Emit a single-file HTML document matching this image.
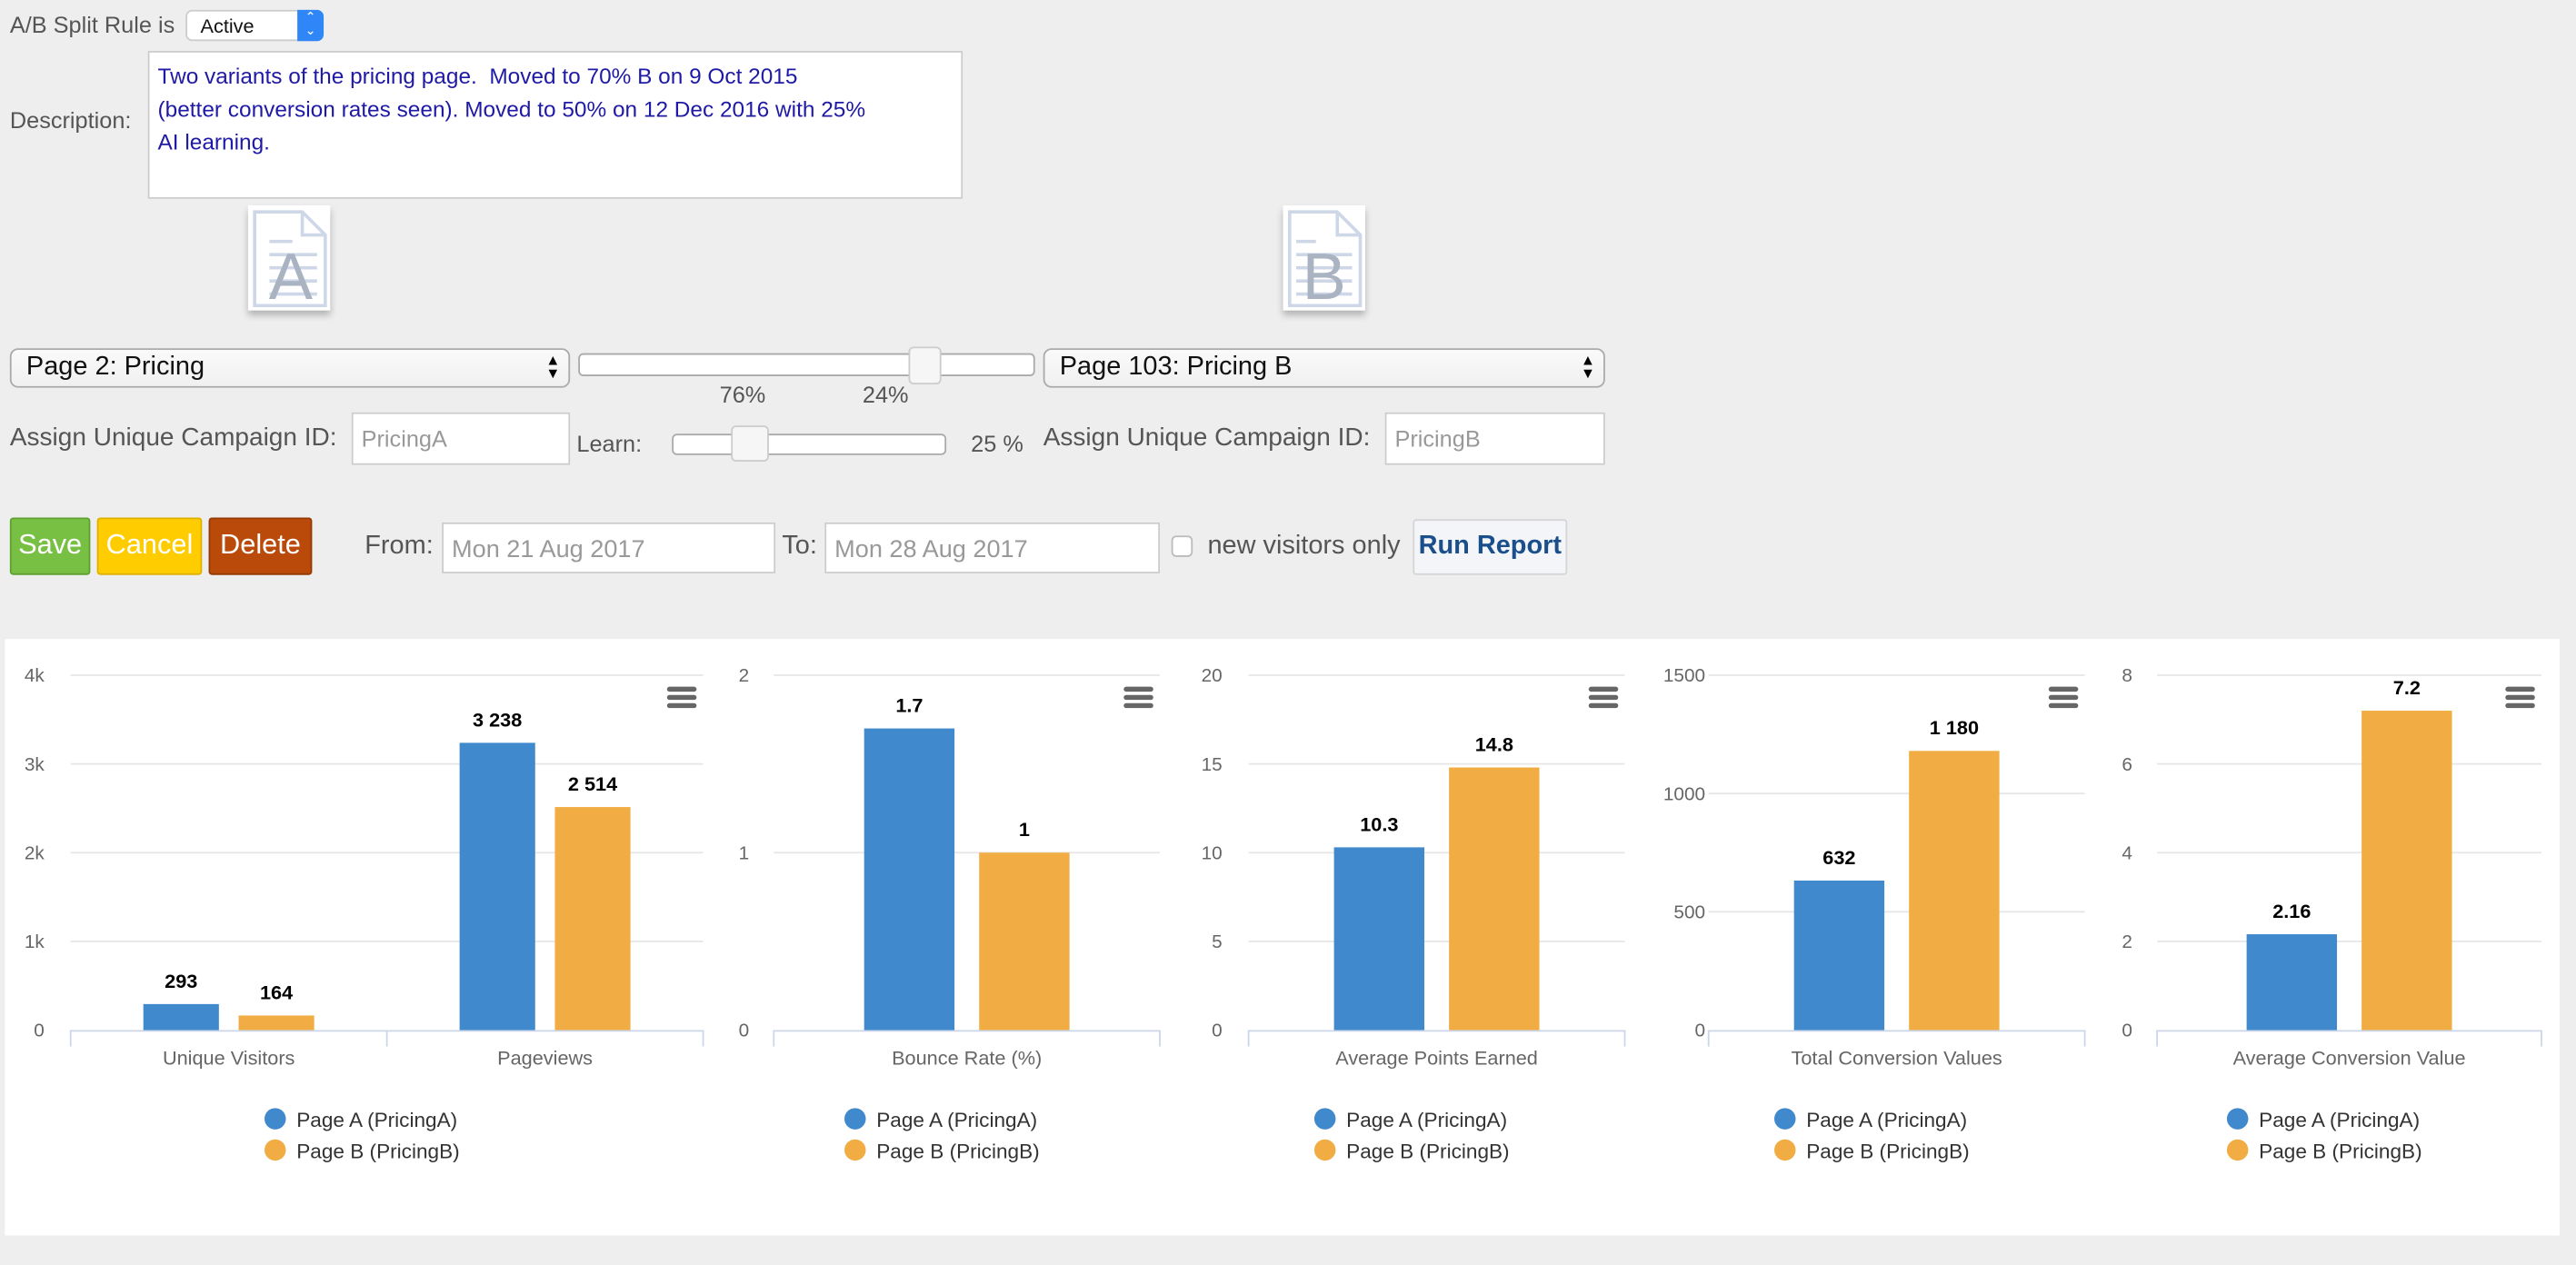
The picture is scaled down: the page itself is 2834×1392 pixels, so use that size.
<!DOCTYPE html>
<html><head><meta charset="utf-8">
<style>
html,body{margin:0;padding:0;background:#eeeeee;overflow:hidden;width:2834px;height:1392px}
#wrap{position:absolute;left:0;top:0;width:1568px;height:770px;transform:scale(1.80740,1.80779);transform-origin:0 0;font-family:"Liberation Sans",sans-serif;color:#555}
.a{position:absolute;white-space:nowrap}
.box{position:absolute;background:#fff;border:1px solid #ccc;box-sizing:border-box}
.sel{position:absolute;background:linear-gradient(#fafafa,#f0f0f0);border:1px solid #aaa;border-radius:5px;box-sizing:border-box;font-size:16px;color:#111;padding:2px 0 0 9px}
.sel .ar{position:absolute;right:5px;top:2px;font-size:9px;line-height:8px;color:#000}
.slider{position:absolute;background:#fff;border:1px solid #aaa;border-radius:3px;box-sizing:border-box}
.thumb{position:absolute;background:#f6f6f6;border:1px solid #ccc;border-radius:3px;box-sizing:border-box}
.btn{position:absolute;box-sizing:border-box;color:#fff;font-size:17px;text-align:center;line-height:32px;border-radius:2px}
.inp{position:absolute;background:#fff;border:1px solid #ccc;box-sizing:border-box;font-size:14px;color:#999;padding:7px 0 0 5px}
.icon{position:absolute;background:#fff;box-shadow:0 3px 4px rgba(0,0,0,.25)}
</style></head><body>
<div id="wrap">
<div class="a" style="left:6px;top:7px;font-size:14px">A/B Split Rule is</div>
<div class="a" style="left:113px;top:6px;width:84px;height:19px;background:#fff;border:1px solid #ccc;border-radius:4px;box-sizing:border-box;font-size:12px;color:#111;padding:2px 0 0 8px">Active<div style="position:absolute;right:-1px;top:-1px;width:16px;height:19px;background:#2f86f6;border-radius:0 4px 4px 0;color:#fff;font-size:8px;line-height:8px;text-align:center;padding-top:1px;box-sizing:border-box">⌃<br>⌄</div></div>
<div class="a" style="left:6px;top:65px;font-size:14px">Description:</div>
<div class="box" style="left:90px;top:31px;width:496px;height:90px;color:#1f1aa5;font-size:13.5px;line-height:20px;padding:5px 0 0 5px;white-space:nowrap">Two variants of the pricing page.&nbsp; Moved to 70% B on 9 Oct 2015<br>(better conversion rates seen). Moved to 50% on 12 Dec 2016 with 25%<br>AI learning.</div>
<div class="icon" style="left:151px;top:125px;width:50px;height:64px"><svg width="50" height="64"><path d="M4 4H33L47 18V61H4Z" fill="#fff" stroke="#cdd7e8" stroke-width="2"/><path d="M33 4V18H47" fill="none" stroke="#cdd7e8" stroke-width="2"/><g stroke="#cdd7e8" stroke-width="2"><line x1="13" y1="22" x2="27" y2="22"/><line x1="13" y1="30" x2="42" y2="30"/><line x1="13" y1="38" x2="42" y2="38"/><line x1="13" y1="46" x2="42" y2="46"/><line x1="13" y1="54" x2="42" y2="54"/></g><text x="26" y="57" font-size="40" fill="#a9b3c2" text-anchor="middle" font-family="Liberation Sans">A</text></svg></div>
<div class="icon" style="left:781px;top:125px;width:50px;height:64px"><svg width="50" height="64"><path d="M4 4H33L47 18V61H4Z" fill="#fff" stroke="#cdd7e8" stroke-width="2"/><path d="M33 4V18H47" fill="none" stroke="#cdd7e8" stroke-width="2"/><g stroke="#cdd7e8" stroke-width="2"><line x1="8" y1="22" x2="20" y2="22"/><line x1="8" y1="30" x2="42" y2="30"/><line x1="8" y1="38" x2="42" y2="38"/><line x1="8" y1="46" x2="42" y2="46"/><line x1="8" y1="54" x2="42" y2="54"/></g><text x="25" y="57" font-size="40" fill="#a9b3c2" text-anchor="middle" font-family="Liberation Sans">B</text></svg></div>
<div class="sel" style="left:6px;top:212px;width:341px;height:24px">Page 2: Pricing<div class="ar">▲<br>▼</div></div>
<div class="slider" style="left:352px;top:215px;width:278px;height:14px"></div>
<div class="thumb" style="left:553px;top:211px;width:20px;height:23px"></div>
<div class="a" style="left:438px;top:232px;font-size:14px">76%</div>
<div class="a" style="left:525px;top:232px;font-size:14px">24%</div>
<div class="sel" style="left:635px;top:212px;width:342px;height:24px">Page 103: Pricing B<div class="ar">▲<br>▼</div></div>
<div class="a" style="left:6px;top:258px;font-size:15.5px">Assign Unique Campaign ID:</div>
<div class="inp" style="left:214px;top:251px;width:133px;height:32px">PricingA</div>
<div class="a" style="left:351px;top:262px;font-size:14px">Learn:</div>
<div class="slider" style="left:409px;top:264px;width:167px;height:13px"></div>
<div class="thumb" style="left:445px;top:259px;width:23px;height:22px"></div>
<div class="a" style="left:591px;top:262px;font-size:14px">25 %</div>
<div class="a" style="left:635px;top:258px;font-size:15.5px">Assign Unique Campaign ID:</div>
<div class="inp" style="left:843px;top:251px;width:134px;height:32px">PricingB</div>
<div class="btn" style="left:6px;top:315px;width:49px;height:35px;background:#77c043;border:1px solid #5fa030">Save</div>
<div class="btn" style="left:59px;top:315px;width:64px;height:35px;background:#ffcc00;border:1px solid #e0b000">Cancel</div>
<div class="btn" style="left:127px;top:315px;width:63px;height:35px;background:#b94a0a;border:1px solid #963a05">Delete</div>
<div class="a" style="left:222px;top:324px;font-size:16px">From:</div>
<div class="inp" style="left:269px;top:318px;width:203px;height:31px;font-size:15px">Mon 21 Aug 2017</div>
<div class="a" style="left:476px;top:324px;font-size:16px">To:</div>
<div class="inp" style="left:502px;top:318px;width:204px;height:31px;font-size:15px">Mon 28 Aug 2017</div>
<div class="a" style="left:713px;top:326px;width:13px;height:13px;background:#fff;border:1px solid #bbb;border-radius:3px;box-sizing:border-box"></div>
<div class="a" style="left:735px;top:324px;font-size:16px">new visitors only</div>
<div class="a" style="left:860px;top:316px;width:94px;height:34px;background:#f3f5f9;border:1px solid #d5d5d5;border-radius:2px;box-sizing:border-box;color:#1a4f8b;font-size:16px;font-weight:bold;text-align:center;line-height:32px">Run Report</div>
<div class="a" style="left:3px;top:389px;width:1555px;height:363px;background:#fff"></div>
<svg id="charts" class="a" style="left:0;top:0" width="1568" height="770"></svg>
</div>
<script>
// chart data
const c1Categories = ["Unique Visitors", "Pageviews"];
const c1A = [293, 3238];
const c1B = [164, 2514];
const c1Ticks = [0, 1000, 2000, 3000, 4000];
const c1TickLabels = ["0", "1k", "2k", "3k", "4k"];
const c2Categories = ["Bounce Rate (%)"];
const c2A = [1.7];
const c2B = [1];
const c2Ticks = [0, 1, 2];
const c2TickLabels = ["0", "1", "2"];
const c3Categories = ["Average Points Earned"];
const c3A = [10.3];
const c3B = [14.8];
const c3Ticks = [0, 5, 10, 15, 20];
const c3TickLabels = ["0", "5", "10", "15", "20"];
const c4Categories = ["Total Conversion Values"];
const c4A = [632];
const c4B = [1180];
const c4Ticks = [0, 500, 1000, 1500];
const c4TickLabels = ["0", "500", "1000", "1500"];
const c5Categories = ["Average Conversion Value"];
const c5A = [2.16];
const c5B = [7.2];
const c5Ticks = [0, 2, 4, 6, 8];
const c5TickLabels = ["0", "2", "4", "6", "8"];
const seriesNames = ["Page A (PricingA)", "Page B (PricingB)"];

const NS = "http://www.w3.org/2000/svg";
const svg = document.getElementById("charts");
function mk(tag, attrs, text) {
  const e = document.createElementNS(NS, tag);
  for (const k in attrs) e.setAttribute(k, attrs[k]);
  if (text !== undefined) e.textContent = text;
  svg.appendChild(e);
  return e;
}
function fmt(v) {
  if (v >= 1000) { const s = String(Math.round(v)); return s.slice(0, s.length - 3) + " " + s.slice(-3); }
  return String(v);
}
function drawChart(idx, x0, x1, cats, A, B, ticks, tickLabels, labx) {
  const yTop = 411, yBot = 627;
  const max = ticks[ticks.length - 1];
  const y = v => yBot - (v / max) * (yBot - yTop);
  ticks.forEach((t, i) => {
    if (t !== 0) {
      const g = mk("line", {x1: x0, x2: x1, y1: y(t), y2: y(t), stroke: "#e6e6e6", "stroke-width": 1});
      
      
    }
    const tl = mk("text", {x: labx, y: y(t) + 4, "text-anchor": "end", "font-size": 11.5, fill: "#666", "font-family": "Liberation Sans"}, tickLabels[i]);
    
    
  });
  const ax = mk("line", {x1: x0, x2: x1, y1: yBot + 0.5, y2: yBot + 0.5, stroke: "#ccd6eb", "stroke-width": 1});
  
  
  const gw = (x1 - x0) / cats.length;
  const bw = cats.length > 1 ? 46 : 55;
  const off = cats.length > 1 ? 29 : 35;
  for (let i = 0; i <= cats.length; i++) {
    const tk = mk("line", {x1: x0 + gw * i, x2: x0 + gw * i, y1: yBot, y2: yBot + 10, stroke: "#ccd6eb"});
    
    
  }
  cats.forEach((c, i) => {
    const cx = x0 + gw * (i + 0.5);
    const cl = mk("text", {x: cx, y: 648, "text-anchor": "middle", "font-size": 12, fill: "#666", "font-family": "Liberation Sans"}, c);
    
    
    [[A, "#3f89cc", -off], [B, "#f1ad43", off]].forEach(([arr, col, o], s) => {
      const v = arr[i];
      const r = mk("rect", {x: cx + o - bw / 2, y: y(v), width: bw, height: yBot - y(v), fill: col});
      
      
      const t = mk("text", {x: cx + o, y: y(v) - 10, "text-anchor": "middle", "font-size": 12, "font-weight": "bold", fill: "#000", "font-family": "Liberation Sans"}, fmt(v));
      
      
    });
  });
  const mx = x1 - 13;
  for (let k = 0; k < 3; k++) {
    const m = mk("rect", {x: mx - 9, y: 418 + k * 5, width: 18, height: 3, rx: 1.5, fill: "#666"});
    
    
  }
  const lc = (x0 + x1) / 2;
  seriesNames.forEach((n, s) => {
    const ly = 681 + s * 19;
    const d = mk("circle", {cx: lc - 68, cy: ly, r: 6.5, fill: s === 0 ? "#3f89cc" : "#f1ad43"});
    
    
    const t = mk("text", {x: lc - 55, y: ly + 5, "font-size": 12.5, fill: "#333", "font-family": "Liberation Sans"}, n);
    
    
  });
}
drawChart(1, 43, 428, c1Categories, c1A, c1B, c1Ticks, c1TickLabels, 27);
drawChart(2, 471, 706, c2Categories, c2A, c2B, c2Ticks, c2TickLabels, 456);
drawChart(3, 760, 989, c3Categories, c3A, c3B, c3Ticks, c3TickLabels, 744);
drawChart(4, 1040, 1269, c4Categories, c4A, c4B, c4Ticks, c4TickLabels, 1038);
drawChart(5, 1313, 1547, c5Categories, c5A, c5B, c5Ticks, c5TickLabels, 1298);
</script>
</body></html>
